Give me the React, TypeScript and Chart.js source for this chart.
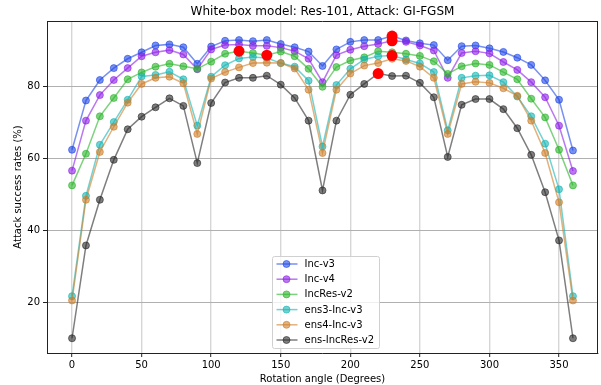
import React, { useEffect, useRef } from "react";
import { Chart, registerables } from "chart.js";

Chart.register(...registerables);

// ---- data ----
const angles = [0, 10, 20, 30, 40, 50, 60, 70, 80, 90, 100, 110, 120, 130, 140, 150, 160, 170, 180, 190, 200, 210, 220, 230, 240, 250, 260, 270, 280, 290, 300, 310, 320, 330, 340, 350, 360];

const incV3 = [62.5, 76.2, 81.9, 85.2, 87.8, 89.6, 91.5, 91.8, 91.0, 86.4, 91.2, 92.8, 93.0, 92.7, 93.0, 91.9, 91.0, 89.8, 85.8, 90.4, 92.5, 93.0, 93.0, 94.1, 92.9, 92.1, 91.6, 87.4, 91.3, 91.5, 90.7, 89.7, 88.1, 86.1, 81.8, 76.4, 62.3];
const incV4 = [56.7, 70.6, 77.7, 81.9, 85.2, 88.5, 89.6, 90.2, 89.0, 84.9, 90.4, 91.6, 91.8, 91.4, 91.4, 90.9, 89.9, 87.8, 81.3, 88.8, 90.3, 91.3, 91.9, 92.8, 92.5, 91.5, 90.1, 82.5, 89.4, 89.9, 89.3, 86.9, 84.7, 81.3, 77.1, 69.2, 56.6];
const incResV2 = [52.6, 61.4, 71.8, 76.9, 82.1, 84.0, 85.6, 86.4, 85.7, 85.0, 87.0, 89.2, 89.9, 89.4, 88.8, 89.8, 88.5, 85.0, 80.0, 85.5, 87.3, 88.2, 89.9, 89.6, 89.2, 88.6, 87.1, 83.6, 85.7, 86.5, 86.1, 84.1, 82.1, 76.7, 71.5, 62.5, 52.6];
const ens3IncV3 = [21.8, 49.7, 63.9, 70.2, 76.4, 82.9, 83.3, 84.2, 82.1, 69.2, 82.8, 86.0, 87.9, 88.3, 88.0, 86.6, 85.6, 81.7, 63.4, 80.5, 85.0, 87.6, 88.5, 88.7, 87.6, 86.5, 84.1, 67.9, 82.5, 83.1, 83.2, 81.3, 77.3, 71.8, 64.2, 51.5, 21.8];
const ens4IncV3 = [20.6, 48.6, 61.9, 68.9, 75.6, 80.8, 82.5, 82.8, 81.0, 66.9, 82.3, 84.1, 85.4, 86.6, 86.7, 86.6, 85.1, 79.2, 61.6, 79.2, 83.7, 85.9, 86.6, 87.8, 87.2, 85.6, 82.5, 66.9, 80.8, 81.4, 81.1, 79.6, 77.5, 70.6, 61.6, 47.9, 20.6];
const ensIncResV2 = [10.1, 35.9, 48.6, 59.7, 68.2, 71.7, 74.3, 76.8, 74.7, 58.8, 75.5, 81.2, 82.5, 82.5, 83.1, 80.6, 76.9, 70.6, 51.2, 70.6, 77.8, 80.8, 83.7, 83.0, 83.1, 81.1, 77.1, 60.5, 75.0, 76.6, 76.6, 73.8, 68.5, 61.1, 50.7, 37.3, 10.1];

const seriesNames = ["Inc-v3", "Inc-v4", "IncRes-v2", "ens3-Inc-v3", "ens4-Inc-v3", "ens-IncRes-v2"];
const seriesValues = [incV3, incV4, incResV2, ens3IncV3, ens4IncV3, ensIncResV2];

// highlighted (red) points
const highlightX = [120, 140, 220, 230, 230, 230];
const highlightY = [89.9, 88.8, 83.7, 94.1, 92.8, 88.7];

const xTickValues = [0, 50, 100, 150, 200, 250, 300, 350];
const yTickValues = [20, 40, 60, 80];

const titleText = "White-box model: Res-101, Attack: GI-FGSM";
const xTitle = "Rotation angle (Degrees)";
const yTitle = "Attack success rates (%)";

// ---- styles ----
const FONT = "'DejaVu Sans', 'Liberation Sans', sans-serif";
const baseColors = [
  [30, 70, 230],
  [140, 30, 230],
  [40, 180, 40],
  [20, 180, 180],
  [205, 125, 40],
  [40, 40, 40],
];
const ALPHA = 0.6;
const rgba = (c: number[], a: number) => `rgba(${c[0]},${c[1]},${c[2]},${a})`;

const overlayPlugin = {
  id: "overlay",
  afterDraw(chart: any) {
    const { ctx, chartArea: ca } = chart;
    ctx.save();
    // top & right spines
    ctx.strokeStyle = "#222";
    ctx.lineWidth = 1;
    ctx.beginPath();
    ctx.moveTo(ca.left, Math.round(ca.top) + 0.5);
    ctx.lineTo(ca.right, Math.round(ca.top) + 0.5);
    ctx.moveTo(Math.round(ca.right) - 0.5, ca.top);
    ctx.lineTo(Math.round(ca.right) - 0.5, ca.bottom);
    ctx.stroke();

    // title centred over the axes
    ctx.fillStyle = "#000";
    ctx.font = `12px ${FONT}`;
    ctx.textAlign = "center";
    ctx.textBaseline = "middle";
    ctx.fillText(titleText, (ca.left + ca.right) / 2, 12);

    // legend
    const xs = chart.scales.x;
    ctx.font = `10px ${FONT}`;
    let tw = 0;
    seriesNames.forEach((n) => (tw = Math.max(tw, ctx.measureText(n).width)));
    const left = Math.round(xs.getPixelForValue(143.5)) + 0.5;
    const w = Math.round(32 + tw + 5);
    const h = 92;
    const bottom = Math.round(ca.bottom - 5) + 0.5;
    const top = bottom - h;
    const r = 2;
    ctx.beginPath();
    ctx.moveTo(left + r, top);
    ctx.lineTo(left + w - r, top);
    ctx.arcTo(left + w, top, left + w, top + r, r);
    ctx.lineTo(left + w, bottom - r);
    ctx.arcTo(left + w, bottom, left + w - r, bottom, r);
    ctx.lineTo(left + r, bottom);
    ctx.arcTo(left, bottom, left, bottom - r, r);
    ctx.lineTo(left, top + r);
    ctx.arcTo(left, top, left + r, top, r);
    ctx.closePath();
    ctx.fillStyle = "rgba(255,255,255,0.8)";
    ctx.fill();
    ctx.strokeStyle = "#d0d0d0";
    ctx.lineWidth = 1;
    ctx.stroke();

    seriesNames.forEach((name, i) => {
      const cy = top + 7.5 + i * 15.2;
      const c = baseColors[i];
      ctx.strokeStyle = rgba(c, ALPHA);
      ctx.lineWidth = 1.5;
      ctx.beginPath();
      ctx.moveTo(left + 4, cy);
      ctx.lineTo(left + 25, cy);
      ctx.stroke();
      ctx.beginPath();
      ctx.arc(left + 14, cy, 3.5, 0, Math.PI * 2);
      ctx.fillStyle = rgba(c, ALPHA);
      ctx.fill();
      ctx.lineWidth = 1;
      ctx.stroke();
      ctx.fillStyle = "#000";
      ctx.textAlign = "left";
      ctx.textBaseline = "middle";
      ctx.fillText(name, left + 32, cy + 0.5);
    });
    ctx.restore();
  },
};

export default function App() {
  const ref = useRef<HTMLCanvasElement | null>(null);

  useEffect(() => {
    if (!ref.current) return;
    Chart.defaults.font.family = FONT;
    const datasets: any[] = seriesNames.map((name, i) => ({
      label: name,
      data: angles.map((a, j) => ({ x: a, y: seriesValues[i][j] })),
      borderColor: rgba(baseColors[i], ALPHA),
      backgroundColor: rgba(baseColors[i], ALPHA),
      pointBackgroundColor: rgba(baseColors[i], ALPHA),
      pointBorderColor: rgba(baseColors[i], ALPHA),
      pointBorderWidth: 1,
      pointRadius: 3.5,
      borderWidth: 1.5,
      showLine: true,
      fill: false,
      tension: 0,
      order: 10 - i,
    }));
    datasets.push({
      label: "highlight",
      data: highlightX.map((x, j) => ({ x, y: highlightY[j] })),
      showLine: false,
      pointRadius: 5.5,
      pointBorderWidth: 0,
      pointBackgroundColor: "rgb(255,0,0)",
      pointBorderColor: "rgb(255,0,0)",
      backgroundColor: "rgb(255,0,0)",
      borderColor: "rgb(255,0,0)",
      order: 0,
    });

    const chart = new Chart(ref.current, {
      type: "scatter",
      data: { datasets },
      options: {
        animation: false,
        responsive: false,
        maintainAspectRatio: false,
        devicePixelRatio: 1,
        layout: { autoPadding: false, padding: { left: 0, right: 3, top: 21, bottom: 0 } },
        plugins: {
          legend: { display: false },
          tooltip: { enabled: false },
          title: { display: false },
        },
        scales: {
          x: {
            type: "linear",
            min: -18,
            max: 378,
            afterBuildTicks: (s: any) => {
              s.ticks = xTickValues.map((v) => ({ value: v }));
            },
            afterFit: (s: any) => {
              s.height = 32;
              s.paddingLeft = 0;
              s.paddingRight = 0;
            },
            ticks: { font: { family: FONT, size: 10 }, color: "#000", padding: 2, maxRotation: 0 },
            grid: { color: "#d6d6d6", lineWidth: 1.4, tickColor: "#222", tickLength: 4, tickWidth: 1 },
            border: { color: "#222", width: 1 },
            title: { display: true, text: xTitle, font: { family: FONT, size: 10 }, color: "#000", padding: { top: 0, bottom: 0 } },
          },
          y: {
            type: "linear",
            min: 6,
            max: 98.3,
            afterBuildTicks: (s: any) => {
              s.ticks = yTickValues.map((v) => ({ value: v }));
            },
            afterFit: (s: any) => {
              s.width = 47;
              s.paddingTop = 0;
              s.paddingBottom = 0;
            },
            ticks: { font: { family: FONT, size: 10 }, color: "#000", padding: 3 },
            grid: { color: "#b0b0b0", lineWidth: 1, tickColor: "#222", tickLength: 4, tickWidth: 1 },
            border: { color: "#222", width: 1 },
            title: { display: true, text: yTitle, font: { family: FONT, size: 10 }, color: "#000", padding: { top: 12, bottom: 0 } },
          },
        },
      } as any,
      plugins: [overlayPlugin],
    });
    return () => chart.destroy();
  }, []);

  return (
    <div style={{ position: "fixed", left: 0, top: 0, width: 601, height: 385, background: "#fff" }}>
      <canvas ref={ref} width={601} height={385} style={{ width: 601, height: 385, display: "block" }} />
    </div>
  );
}
